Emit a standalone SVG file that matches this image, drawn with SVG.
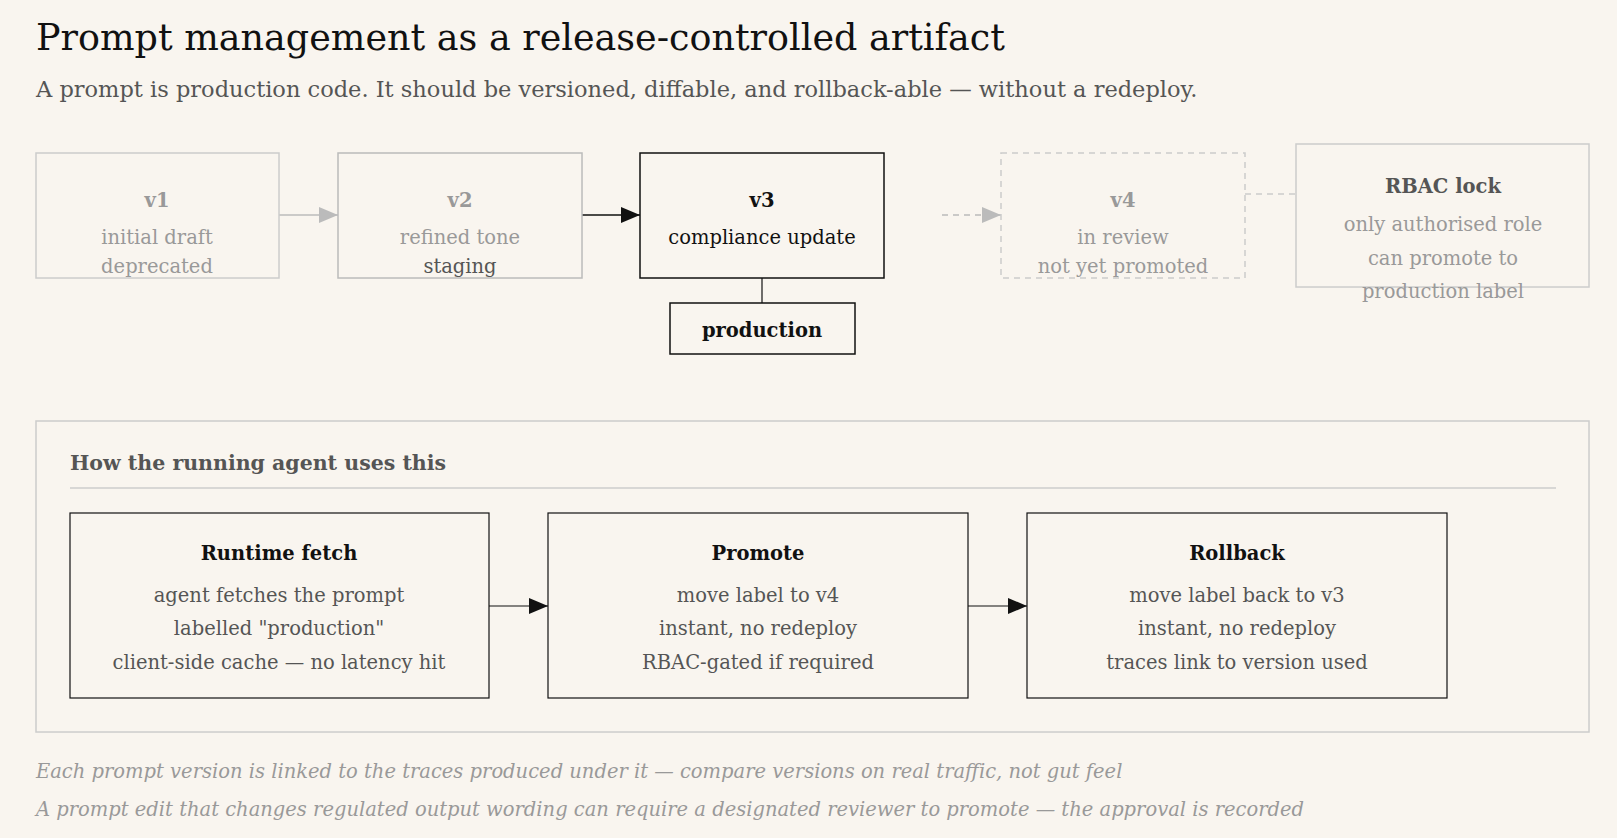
<svg xmlns="http://www.w3.org/2000/svg" width="1617" height="838" viewBox="0 0 1617 838">
<style>
text{font-family:"DejaVu Serif","Liberation Serif",serif}
.t{text-anchor:middle;font-size:19.5px}
.b{font-weight:bold}
.g{fill:#999}
.d{fill:#555}
.k{fill:#111}
</style>
<defs>
<marker id="ag" markerWidth="20" markerHeight="16" refX="19" refY="8" orient="auto" markerUnits="userSpaceOnUse"><path d="M0,0L19,8L0,16z" fill="#bbb"/></marker>
<marker id="ak" markerWidth="20" markerHeight="16" refX="19" refY="8" orient="auto" markerUnits="userSpaceOnUse"><path d="M0,0L19,8L0,16z" fill="#111"/></marker>
</defs>
<rect width="1617" height="838" fill="#f9f5ef"/>
<text x="36" y="50" font-size="36.5" fill="#111">Prompt management as a release-controlled artifact</text>
<text x="36" y="97" font-size="22.5" fill="#555">A prompt is production code. It should be versioned, diffable, and rollback-able — without a redeploy.</text>
<g id="connectors" fill="none">
<line x1="279" y1="215" x2="338" y2="215" stroke="#bbb" stroke-width="1.5" marker-end="url(#ag)"/>
<line x1="582" y1="215" x2="640" y2="215" stroke="#111" stroke-width="1.5" marker-end="url(#ak)"/>
<line x1="942" y1="215" x2="1001" y2="215" stroke="#bbb" stroke-width="1.5" stroke-dasharray="6,5" marker-end="url(#ag)"/>
<line x1="1245" y1="194" x2="1295" y2="194" stroke="#ccc" stroke-width="1.5" stroke-dasharray="6,5"/>
<line x1="762" y1="278" x2="762" y2="303" stroke="#111" stroke-width="1.2"/>
<line x1="489" y1="606" x2="548" y2="606" stroke="#111" stroke-width="1.2" marker-end="url(#ak)"/>
<line x1="968" y1="606" x2="1027" y2="606" stroke="#111" stroke-width="1.2" marker-end="url(#ak)"/>
</g>
<g id="v1"><rect x="36" y="153" width="243" height="125" fill="none" stroke="#ccc" stroke-width="1.5"/>
<text class="t b g" x="157" y="207" font-size="21">v1</text><text class="t g" x="157" y="244">initial draft</text><text class="t g" x="157" y="273">deprecated</text></g>
<g id="v2"><rect x="338" y="153" width="244" height="125" fill="none" stroke="#bbb" stroke-width="1.5"/>
<text class="t b g" x="460" y="207" font-size="21">v2</text><text class="t g" x="460" y="244">refined tone</text><text class="t d" x="460" y="273">staging</text></g>
<g id="v3"><rect x="640" y="153" width="244" height="125" fill="none" stroke="#111" stroke-width="1.5"/>
<text class="t b k" x="762" y="207" font-size="22">v3</text><text class="t k" x="762" y="244">compliance update</text></g>
<g id="production"><rect x="670" y="303" width="185" height="51" fill="none" stroke="#111" stroke-width="1.5"/>
<text class="t b k" x="762" y="337" font-size="21">production</text></g>
<g id="v4"><rect x="1001" y="153" width="244" height="125" fill="none" stroke="#ccc" stroke-width="1.5" stroke-dasharray="6,5"/>
<text class="t b g" x="1123" y="207" font-size="22">v4</text><text class="t g" x="1123" y="244">in review</text><text class="t g" x="1123" y="273">not yet promoted</text></g>
<g id="rbac"><rect x="1296" y="144" width="293" height="143" fill="none" stroke="#ccc" stroke-width="1.5"/>
<text class="t b d" x="1443" y="193" font-size="21">RBAC lock</text><text class="t g" x="1443" y="231">only authorised role</text><text class="t g" x="1443" y="265">can promote to</text><text class="t g" x="1443" y="298">production label</text></g>
<g id="panel"><rect x="36" y="421" width="1553" height="311" fill="none" stroke="#ccc" stroke-width="1.5"/>
<text x="70" y="470" font-size="20.5" class="b d">How the running agent uses this</text>
<line x1="70" y1="488" x2="1556" y2="488" stroke="#ccc" stroke-width="1.5"/></g>
<g id="fetch"><rect x="70" y="513" width="419" height="185" fill="none" stroke="#111" stroke-width="1.2"/>
<text class="t b k" x="279" y="560" font-size="21">Runtime fetch</text><text class="t d" x="279" y="602">agent fetches the prompt</text><text class="t d" x="279" y="635">labelled "production"</text><text class="t d" x="279" y="669">client-side cache — no latency hit</text></g>
<g id="promote"><rect x="548" y="513" width="420" height="185" fill="none" stroke="#111" stroke-width="1.2"/>
<text class="t b k" x="758" y="560" font-size="21">Promote</text><text class="t d" x="758" y="602">move label to v4</text><text class="t d" x="758" y="635">instant, no redeploy</text><text class="t d" x="758" y="669">RBAC-gated if required</text></g>
<g id="rollback"><rect x="1027" y="513" width="420" height="185" fill="none" stroke="#111" stroke-width="1.2"/>
<text class="t b k" x="1237" y="560" font-size="21">Rollback</text><text class="t d" x="1237" y="602">move label back to v3</text><text class="t d" x="1237" y="635">instant, no redeploy</text><text class="t d" x="1237" y="669">traces link to version used</text></g>
<text x="36" y="778" font-size="19.5" font-style="italic" fill="#999">Each prompt version is linked to the traces produced under it — compare versions on real traffic, not gut feel</text>
<text x="36" y="816" font-size="19.5" font-style="italic" fill="#999">A prompt edit that changes regulated output wording can require a designated reviewer to promote — the approval is recorded</text>
</svg>
